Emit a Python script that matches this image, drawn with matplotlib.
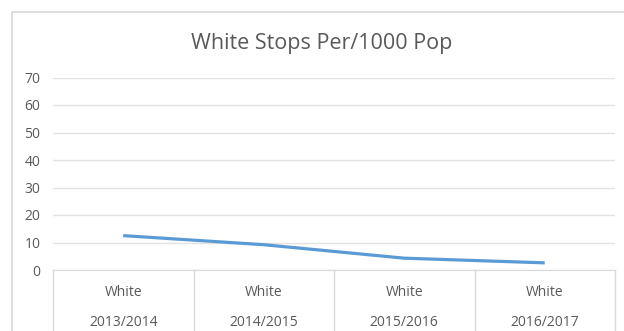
import matplotlib.pyplot as plt
from matplotlib.patches import Rectangle
from matplotlib.lines import Line2D
import matplotlib.transforms as mtransforms

plt.rcParams['font.family'] = ['Open Sans', 'DejaVu Sans']

# data
groups = ["White", "White", "White", "White"]
years = ["2013/2014", "2014/2015", "2015/2016", "2016/2017"]
stops = [12.5, 9.2, 4.3, 2.6]
y_ticks = [0, 10, 20, 30, 40, 50, 60, 70]

W, H = 624, 331
fig = plt.figure(figsize=(W / 100, H / 100), dpi=100)

# chart area border (runs off the right and bottom edges)
fig.patches.append(Rectangle((12 / W, -0.1), 1.0, (H - 12) / H + 0.1,
                             transform=fig.transFigure, fill=False,
                             edgecolor="#d9d9d9", linewidth=1.2))

left, right = 53 / W, 615 / W
bottom, top = (H - 270) / H, (H - 77.5) / H
ax = fig.add_axes([left, bottom, right - left, top - bottom])

x = list(range(len(stops)))
ax.plot(x, stops, color="#5b9bd5", linewidth=2.3, solid_capstyle="butt")

ax.set_xlim(-0.5, len(stops) - 0.5)
ax.set_ylim(0, 70)
ax.set_yticks(y_ticks)
ax.tick_params(axis="y", length=0, pad=9, labelsize=10, labelcolor="#595959")
ax.set_xticks([])
ax.grid(axis="y", color="#e3e3e3", linewidth=1)
ax.set_axisbelow(True)
for s in ["top", "right", "left"]:
    ax.spines[s].set_visible(False)
ax.spines["bottom"].set_color("#d9d9d9")

# multi-level category axis
trans = mtransforms.blended_transform_factory(ax.transData, ax.transAxes)
ax_h = (top - bottom) * H
for i in range(len(stops) + 1):
    ax.add_line(Line2D([i - 0.5, i - 0.5], [0, -70 / ax_h], transform=trans,
                       color="#d9d9d9", linewidth=1, clip_on=False))
for i, (g, yr) in enumerate(zip(groups, years)):
    ax.text(i, -22 / ax_h, g, transform=trans, ha="center", va="center",
            fontsize=10, color="#595959")
    ax.text(i, -52 / ax_h, yr, transform=trans, ha="center", va="center",
            fontsize=10, color="#595959")

fig.text((190 + 453) / 2 / W, 1 - 43 / H, "White Stops Per/1000 Pop",
         ha="center", va="center", fontsize=15.5, color="#595959")

fig.savefig("out.png", dpi=100)
